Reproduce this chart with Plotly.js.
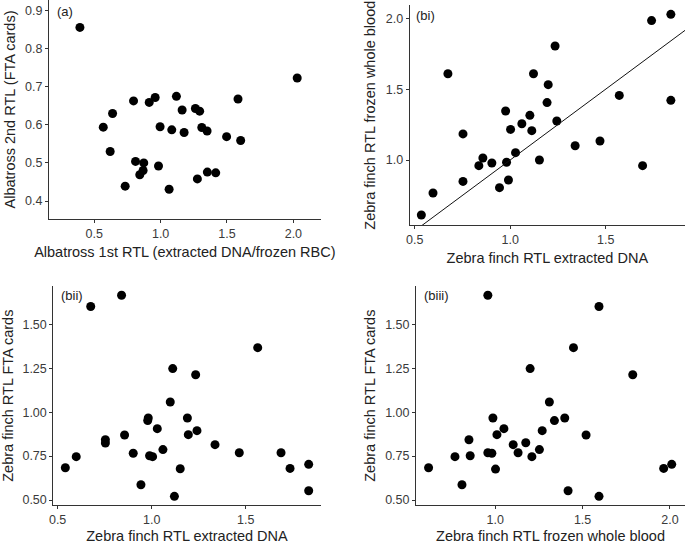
<!DOCTYPE html>
<html>
<head>
<meta charset="utf-8">
<script src="https://cdn.plot.ly/plotly-3.0.1.min.js"></script>
<style>html,body{margin:0;padding:0;background:#fff;}#chart{width:685px;height:544px;}</style>
</head>
<body>
<div id="chart"></div>
<script>
// Panel (a): Albatross
const albatross1st = [0.392,2.029,0.796,0.914,0.959,1.119,1.583,0.638,1.162,1.262,1.294,0.568,0.996,1.084,1.177,1.310,1.350,1.497,1.603,0.620,0.811,0.873,0.984,0.868,0.843,1.352,1.415,1.277,0.733,1.064];
const albatross2nd = [0.856,0.723,0.663,0.659,0.672,0.675,0.668,0.630,0.639,0.643,0.636,0.594,0.595,0.587,0.580,0.593,0.584,0.569,0.559,0.530,0.504,0.500,0.492,0.480,0.469,0.476,0.474,0.458,0.439,0.431];

// Panel (bi): Zebra finch extracted DNA vs frozen whole blood
const zfExtractedBi = [0.535,0.596,0.674,0.753,0.753,0.836,0.857,0.904,0.944,0.976,0.981,0.991,1.002,1.028,1.061,1.103,1.113,1.122,1.153,1.193,1.199,1.235,1.244,1.340,1.470,1.571,1.693,1.740,1.841,1.841];
const zfBloodBi = [0.612,0.767,1.609,1.184,0.849,0.960,1.014,0.979,0.805,1.346,0.984,0.859,1.216,1.052,1.256,1.315,1.207,1.609,1.000,1.405,1.532,1.805,1.275,1.101,1.134,1.456,0.960,1.984,2.028,1.421];
const lineX = [0.4, 2.0];
const lineY = [0.4, 2.0];

// Panel (bii): Zebra finch extracted DNA vs FTA cards
const zfExtractedBii = [0.541,0.599,0.676,0.754,0.754,0.856,0.902,0.943,0.840,0.979,0.982,0.989,1.005,1.030,1.060,1.099,1.112,1.121,1.152,1.190,1.195,1.234,1.241,1.337,1.466,1.564,1.688,1.736,1.835,1.835];
const zfFtaBii = [0.684,0.747,1.601,0.843,0.824,0.870,0.766,0.587,1.665,0.952,0.967,0.752,0.747,0.906,0.787,1.058,1.248,0.521,0.678,0.967,0.872,1.213,0.895,0.815,0.769,1.367,0.769,0.680,0.703,0.553];

// Panel (biii): Zebra finch frozen whole blood vs FTA cards
const zfBloodBiii = [0.619,0.770,0.810,0.850,0.857,0.958,0.958,0.981,0.987,1.002,1.010,1.050,1.103,1.131,1.175,1.200,1.210,1.253,1.269,1.310,1.339,1.398,1.417,1.448,1.520,1.594,1.594,1.787,1.964,2.010];
const zfFtaBiii = [0.684,0.747,0.587,0.843,0.752,1.665,0.769,0.766,0.967,0.676,0.872,0.906,0.815,0.769,0.826,1.248,0.747,0.787,0.895,1.058,0.952,0.967,0.553,1.367,0.870,1.601,0.521,1.213,0.680,0.703];

const panelLabels = ['(a)', '(bi)', '(bii)', '(biii)'];
const xTitles = ['Albatross 1st RTL (extracted DNA/frozen RBC)', 'Zebra finch RTL extracted DNA', 'Zebra finch RTL extracted DNA', 'Zebra finch RTL frozen whole blood'];
const yTitles = ['Albatross 2nd RTL (FTA cards)', 'Zebra finch RTL frozen whole blood', 'Zebra finch RTL FTA cards', 'Zebra finch RTL FTA cards'];

const marker = {color: '#000', size: 9, line: {width: 0}};
const FONT = 'Liberation Sans, Arial, sans-serif';

const traces = [
  {x: albatross1st, y: albatross2nd, xaxis: 'x', yaxis: 'y', type: 'scatter', mode: 'markers', marker: marker, cliponaxis: false},
  {x: zfExtractedBi, y: zfBloodBi, xaxis: 'x2', yaxis: 'y2', type: 'scatter', mode: 'markers', marker: marker, cliponaxis: false},
  {x: lineX, y: lineY, xaxis: 'x2', yaxis: 'y2', type: 'scatter', mode: 'lines', line: {color: '#111', width: 1}},
  {x: zfExtractedBii, y: zfFtaBii, xaxis: 'x3', yaxis: 'y3', type: 'scatter', mode: 'markers', marker: marker, cliponaxis: false},
  {x: zfBloodBiii, y: zfFtaBiii, xaxis: 'x4', yaxis: 'y4', type: 'scatter', mode: 'markers', marker: marker, cliponaxis: false}
];

function ax(domain, range, tickvals, ticktext, title, standoff) {
  return {
    domain: domain, range: range, tickvals: tickvals, ticktext: ticktext,
    showline: true, linecolor: '#333', linewidth: 1,
    ticks: 'outside', ticklen: 3, tickcolor: '#333', tickwidth: 1,
    showgrid: false, zeroline: false, mirror: false,
    tickfont: {family: FONT, size: 12.5, color: '#3a3a3a'},
    title: {text: title, font: {family: FONT, size: 14.5, color: '#222'}, standoff: standoff},
    fixedrange: true
  };
}

const layout = {
  width: 685, height: 544,
  margin: {l: 0, r: 0, t: 0, b: 0},
  paper_bgcolor: '#fff', plot_bgcolor: '#fff',
  showlegend: false,
  xaxis: Object.assign(ax([0.0715, 0.4682], [0.159, 2.206], [0.5, 1.0, 1.5, 2.0], ['0.5', '1.0', '1.5', '2.0'], xTitles[0], 6), {anchor: 'y'}),
  yaxis: Object.assign(ax([0.5974, 1.0], [0.3527, 0.928], [0.4, 0.5, 0.6, 0.7, 0.8, 0.9], ['0.4', '0.5', '0.6', '0.7', '0.8', '0.9'], yTitles[0], 6), {anchor: 'x'}),
  xaxis2: Object.assign(ax([0.5981, 1.0], [0.474, 1.915], [0.5, 1.0, 1.5], ['0.5', '1.0', '1.5'], xTitles[1], 6), {anchor: 'y2'}),
  yaxis2: Object.assign(ax([0.5858, 0.9908], [0.539, 2.094], [1.0, 1.5, 2.0], ['1.0', '1.5', '2.0'], yTitles[1], 6), {anchor: 'x2'}),
  xaxis3: Object.assign(ax([0.0778, 0.4682], [0.477, 1.899], [0.5, 1.0, 1.5], ['0.5', '1.0', '1.5'], xTitles[2], 6), {anchor: 'y3'}),
  yaxis3: Object.assign(ax([0.0711, 0.4743], [0.470, 1.718], [0.5, 0.75, 1.0, 1.25, 1.5], ['0.50', '0.75', '1.00', '1.25', '1.50'], yTitles[2], 6), {anchor: 'x3'}),
  xaxis4: Object.assign(ax([0.6073, 1.0], [0.547, 2.086], [1.0, 1.5, 2.0], ['1.0', '1.5', '2.0'], xTitles[3], 6), {anchor: 'y4'}),
  yaxis4: Object.assign(ax([0.0711, 0.4743], [0.470, 1.718], [0.5, 0.75, 1.0, 1.25, 1.5], ['0.50', '0.75', '1.00', '1.25', '1.50'], yTitles[3], 6), {anchor: 'x4'}),
  annotations: [
    {text: panelLabels[0], xref: 'paper', yref: 'paper', x: 55/685, y: 1 - 11/544, xanchor: 'left', yanchor: 'middle', showarrow: false, font: {family: FONT, size: 13, color: '#222'}},
    {text: panelLabels[1], xref: 'paper', yref: 'paper', x: 414/685, y: 1 - 15/544, xanchor: 'left', yanchor: 'middle', showarrow: false, font: {family: FONT, size: 13, color: '#222'}},
    {text: panelLabels[2], xref: 'paper', yref: 'paper', x: 59/685, y: 1 - 295/544, xanchor: 'left', yanchor: 'middle', showarrow: false, font: {family: FONT, size: 13, color: '#222'}},
    {text: panelLabels[3], xref: 'paper', yref: 'paper', x: 422/685, y: 1 - 295/544, xanchor: 'left', yanchor: 'middle', showarrow: false, font: {family: FONT, size: 13, color: '#222'}}
  ]
};

Plotly.newPlot('chart', traces, layout, {displayModeBar: false, staticPlot: true});
</script>
</body>
</html>
